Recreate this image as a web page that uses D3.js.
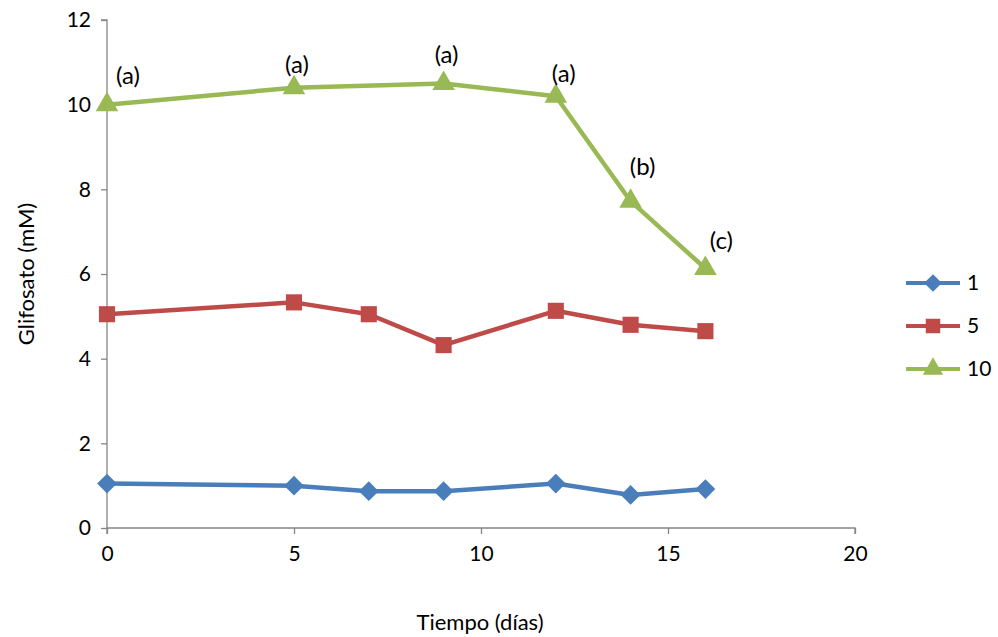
<!DOCTYPE html>
<html>
<head>
<meta charset="utf-8">
<script src="https://cdn.jsdelivr.net/npm/d3@7"></script>
<style>
  body { margin: 0; background: #fff; }
  text { font-family: Lato, "Open Sans", sans-serif; }
</style>
</head>
<body>
<div id="chart"></div>
<script>
var w = 998;
var h = 637;

var margin = { top: 20, bottom: 109, left: 107, right: 143 };
var width = w - margin.left - margin.right;
var height = h - margin.top - margin.bottom;

// data
var seriesNames = ["1", "5", "10"];
var colors = ["#4a7ebb", "#be4b48", "#98b954"];
var days1 = [0, 5, 7, 9, 12, 14, 16];
var vals1 = [1.05, 1.0, 0.87, 0.87, 1.05, 0.78, 0.92];
var days5 = [0, 5, 7, 9, 12, 14, 16];
var vals5 = [5.05, 5.33, 5.05, 4.32, 5.13, 4.8, 4.65];
var days10 = [0, 5, 9, 12, 14, 16];
var vals10 = [10.0, 10.4, 10.5, 10.2, 7.72, 6.13];
var letters10 = ["(a)", "(a)", "(a)", "(a)", "(b)", "(c)"];
var labelOffsets = [[21, -29], [3, -23], [3, -29], [8, -23], [12, -35], [16, -28]];

var xTicks = [0, 5, 10, 15, 20];
var yTicks = [0, 2, 4, 6, 8, 10, 12];

var series = [
  { name: seriesNames[0], color: colors[0], shape: "diamond", pts: days1.map(function (d, i) { return { x: d, y: vals1[i] }; }) },
  { name: seriesNames[1], color: colors[1], shape: "square", pts: days5.map(function (d, i) { return { x: d, y: vals5[i] }; }) },
  { name: seriesNames[2], color: colors[2], shape: "triangle", pts: days10.map(function (d, i) { return { x: d, y: vals10[i] }; }) }
];

// excel-like markers
function marker(shape, s) {
  if (shape === "diamond") return d3.symbol().type(d3.symbolSquare).size(s * 0.75)();
  if (shape === "square") return d3.symbol().type(d3.symbolSquare).size(s)();
  return d3.symbol().type(d3.symbolTriangle).size(s * 0.85)();
}
function rot(shape) { return shape === "diamond" ? " rotate(45)" : ""; }

var x = d3.scaleLinear().domain([0, 20]).range([0, width]);
var y = d3.scaleLinear().domain([0, 12]).range([height, 0]);

var svg = d3.select("#chart").append("svg")
  .attr("width", w)
  .attr("height", h);

var chart = svg.append("g").attr("transform", "translate(" + margin.left + "," + margin.top + ")");

var yAxis = chart.append("g")
  .call(d3.axisLeft(y).tickValues(yTicks).tickSize(6).tickPadding(10));
var xAxis = chart.append("g")
  .attr("transform", "translate(0," + height + ")")
  .call(d3.axisBottom(x).tickValues(xTicks).tickSize(6).tickPadding(12));

[xAxis, yAxis].forEach(function (a) {
  a.selectAll("path, line").attr("stroke", "#868686").attr("stroke-width", 1.3);
  a.selectAll("text").style("font-size", "21px").attr("fill", "#000");
});
yAxis.select(".domain").attr("d", "M-6,0H0V" + height);
xAxis.select(".domain").attr("d", "M0,6V0H" + width + "V6");

var line = d3.line()
  .x(function (d) { return x(d.x); })
  .y(function (d) { return y(d.y); });

series.forEach(function (s) {
  chart.append("path")
    .datum(s.pts)
    .attr("d", line)
    .attr("fill", "none")
    .attr("stroke", s.color)
    .attr("stroke-width", 4.5)
    .attr("stroke-linejoin", "round");

  chart.selectAll(null)
    .data(s.pts)
    .join("path")
    .attr("transform", function (d) { return "translate(" + x(d.x) + "," + y(d.y) + ")" + rot(s.shape); })
    .attr("d", marker(s.shape, 260))
    .attr("fill", s.color);
});

// letters on the 10 mM series
chart.selectAll(".lbl")
  .data(series[2].pts)
  .join("text")
  .attr("class", "lbl")
  .attr("x", function (d, i) { return x(d.x) + labelOffsets[i][0]; })
  .attr("y", function (d, i) { return y(d.y) + labelOffsets[i][1]; })
  .attr("text-anchor", "middle")
  .attr("dy", "0.35em")
  .style("font-size", "24px")
  .text(function (d, i) { return letters10[i]; });

// axis titles
svg.append("text")
  .attr("transform", "translate(26," + (margin.top + height / 2) + ") rotate(-90)")
  .attr("text-anchor", "middle")
  .attr("dy", "0.35em")
  .style("font-size", "22px")
  .text("Glifosato (mM)");

svg.append("text")
  .attr("x", 480)
  .attr("y", 622)
  .attr("text-anchor", "middle")
  .attr("dy", "0.35em")
  .style("font-size", "22px")
  .text("Tiempo (días)");

// legend
var legend = svg.append("g").attr("transform", "translate(906,283)");
var item = legend.selectAll("g")
  .data(series)
  .join("g")
  .attr("transform", function (d, i) { return "translate(0," + (i * 43) + ")"; });
item.append("line")
  .attr("x1", 0).attr("x2", 54)
  .attr("stroke", function (d) { return d.color; })
  .attr("stroke-width", 4);
item.append("path")
  .attr("transform", function (d) { return "translate(27,0)" + rot(d.shape); })
  .attr("d", function (d) { return marker(d.shape, 210); })
  .attr("fill", function (d) { return d.color; });
item.append("text")
  .attr("x", 61)
  .attr("dy", "0.35em")
  .style("font-size", "21px")
  .text(function (d) { return d.name; });
</script>
</body>
</html>
